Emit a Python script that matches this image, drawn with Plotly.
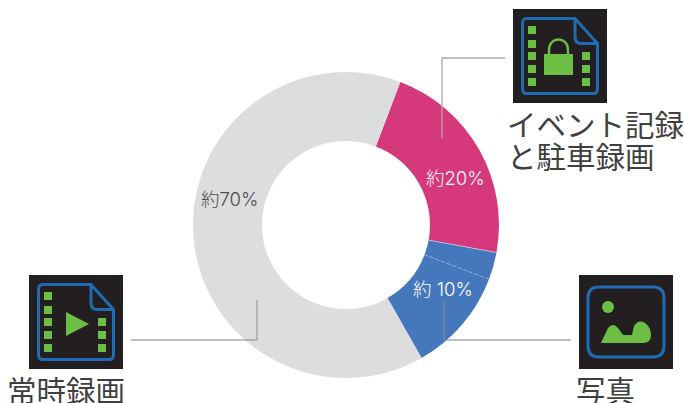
import math
import plotly.graph_objects as go

# Data (slice sizes in percent of the ring)
categories = ["イベント記録と駐車録画", "写真A", "写真B", "常時録画"]
values = [22.1, 2.9, 11.0, 64.0]
colors = ["#d6397b", "#4577bd", "#4577bd", "#dcdddf"]
START_ANGLE = 20.8

W, H = 684, 403
CX, CY, R_OUT, R_IN = 346, 225, 153, 84

BLACK, BLUE, GREEN = "#231f20", "#1f6cb5", "#6cbe45"
LEADER = "rgba(140,140,140,0.75)"
CJK = "'Noto Sans CJK JP', sans-serif"
LABEL = "Inter, 'Noto Sans CJK JP', sans-serif"

shapes = []


def rect(x0, y0, x1, y1, color):
    shapes.append(dict(type="rect", x0=x0, y0=y0, x1=x1, y1=y1, xref="x", yref="y",
                       fillcolor=color, line=dict(width=0), layer="above"))


def path(d, fill=None, stroke=None, width=0):
    shapes.append(dict(type="path", path=d, xref="x", yref="y", layer="above",
                       fillcolor=fill or "rgba(0,0,0,0)",
                       line=dict(color=stroke or "rgba(0,0,0,0)", width=width)))


def line(x0, y0, x1, y1, color=LEADER, width=1.3, dash="solid"):
    shapes.append(dict(type="line", x0=x0, y0=y0, x1=x1, y1=y1, xref="x", yref="y",
                       layer="above", line=dict(color=color, width=width, dash=dash)))


def film_icon(ox, oy):
    rect(ox, oy, ox + 94, oy + 94, BLACK)
    path(f"M{ox+62},{oy+9.5} L{ox+14},{oy+9.5} Q{ox+9.5},{oy+9.5} {ox+9.5},{oy+14} "
         f"L{ox+9.5},{oy+80} Q{ox+9.5},{oy+84.5} {ox+14},{oy+84.5} L{ox+80},{oy+84.5} "
         f"Q{ox+84.5},{oy+84.5} {ox+84.5},{oy+80} L{ox+84.5},{oy+34.5} Z",
         stroke=BLUE, width=3)
    path(f"M{ox+62},{oy+9.5} L{ox+62},{oy+28} Q{ox+62},{oy+34.5} {ox+68.5},{oy+34.5} "
         f"L{ox+84.5},{oy+34.5}", stroke=BLUE, width=3)
    for y in (17, 31, 43, 56, 69):
        rect(ox + 15, oy + y, ox + 23, oy + y + 8, GREEN)
    for y in (43, 56, 69):
        rect(ox + 69, oy + y, ox + 77, oy + y + 8, GREEN)


# Lock icon
film_icon(513, 9)
rect(513 + 31, 9 + 45, 513 + 60, 9 + 66, GREEN)
path(f"M{513+36},{9+45} L{513+36},{9+41} C{513+36},{9+27} {513+55},{9+27} {513+55},{9+41} L{513+55},{9+45}",
     stroke=GREEN, width=2.4)

# Play icon
film_icon(29, 275)
path(f"M{29+37},{275+37} L{29+37},{275+61} L{29+60},{275+49} Z", fill=GREEN)

# Photo icon
ox, oy = 579, 275
rect(ox, oy, ox + 94, oy + 94, BLACK)
path(f"M{ox+20},{oy+12} L{ox+74},{oy+12} Q{ox+85},{oy+12} {ox+85},{oy+23} L{ox+85},{oy+71} "
     f"Q{ox+85},{oy+82} {ox+74},{oy+82} L{ox+20},{oy+82} Q{ox+9},{oy+82} {ox+9},{oy+71} "
     f"L{ox+9},{oy+23} Q{ox+9},{oy+12} {ox+20},{oy+12} Z", stroke=BLUE, width=3)
shapes.append(dict(type="circle", x0=ox + 23, y0=oy + 26, x1=ox + 35, y1=oy + 38, xref="x", yref="y",
                   fillcolor=GREEN, line=dict(width=0), layer="above"))
path(f"M{ox+22},{oy+68} L{ox+29},{oy+53} Q{ox+34},{oy+47} {ox+39},{oy+53} L{ox+44},{oy+60} "
     f"L{ox+53},{oy+60} L{ox+55},{oy+51} Q{ox+60},{oy+44} {ox+66},{oy+48} Q{ox+72},{oy+52} {ox+72},{oy+60} "
     f"Q{ox+72},{oy+68} {ox+64},{oy+68} Z", fill=GREEN)

# Leader lines
line(442, 58, 505, 58, "rgba(170,170,170,1)")
line(442, 58, 442, 138, "rgba(170,170,170,1)")
line(131, 340, 257, 340)
line(257, 300, 257, 340)
line(444, 300, 444, 340)
line(444, 340, 571, 340)

# Boundaries inside the blue part, from the data
def boundary(pct_cum, color, width, dash):
    a = math.radians(START_ANGLE + pct_cum * 3.6)
    line(CX + R_IN * math.sin(a), CY - R_IN * math.cos(a),
         CX + R_OUT * math.sin(a), CY - R_OUT * math.cos(a), color, width, dash)

boundary(values[0], "rgba(255,255,255,0.6)", 0.8, "solid")
boundary(values[0] + values[1], "rgba(255,255,255,0.4)", 0.8, "dot")

pie = go.Pie(
    labels=categories, values=values, sort=False, direction="clockwise",
    rotation=START_ANGLE, hole=R_IN / R_OUT, textinfo="none", showlegend=False, hoverinfo="skip",
    marker=dict(colors=colors, line=dict(width=0)),
    domain=dict(x=[(CX - R_OUT) / W, (CX + R_OUT) / W],
                y=[(H - CY - R_OUT) / H, (H - CY + R_OUT) / H]),
)
fig = go.Figure(pie)
fig.add_trace(go.Scatter(x=[0], y=[0], mode="markers", marker=dict(opacity=0), showlegend=False, hoverinfo="skip"))


def text(x, y, s, size, color, anchor="left", family=CJK, weight=None):
    font = dict(size=size, color=color, family=family)
    if weight:
        font["weight"] = weight
    fig.add_annotation(x=x, y=y, xref="x", yref="y", text=s, showarrow=False, xanchor=anchor, yanchor="middle",
                       font=font, borderpad=0, borderwidth=0)


INK = "#3f3f3f"
text(507, 123, "イベント記録", 29.5, INK)
text(507, 155, "と駐車録画", 29.5, INK)
text(7, 389, "常時録画", 29.5, INK)
text(576, 389, "写真", 29.5, INK)
text(229, 199, "約70%", 18.5, "#4a4a4a", "center", LABEL, 300)
text(455, 178, "約20%", 18.5, "#ffffff", "center", LABEL, 300)
text(443, 289, "約 10%", 18.5, "#ffffff", "center", LABEL, 300)

axis = dict(visible=False, fixedrange=True, showgrid=False, zeroline=False)
fig.update_layout(
    width=W, height=H, margin=dict(l=0, r=0, t=0, b=0),
    paper_bgcolor="white", plot_bgcolor="rgba(0,0,0,0)",
    xaxis=dict(range=[0, W], **axis), yaxis=dict(range=[H, 0], **axis),
    shapes=shapes,
)
fig.write_html("out.html", config=dict(displayModeBar=False),
               post_script="document.body.style.margin='0';")
